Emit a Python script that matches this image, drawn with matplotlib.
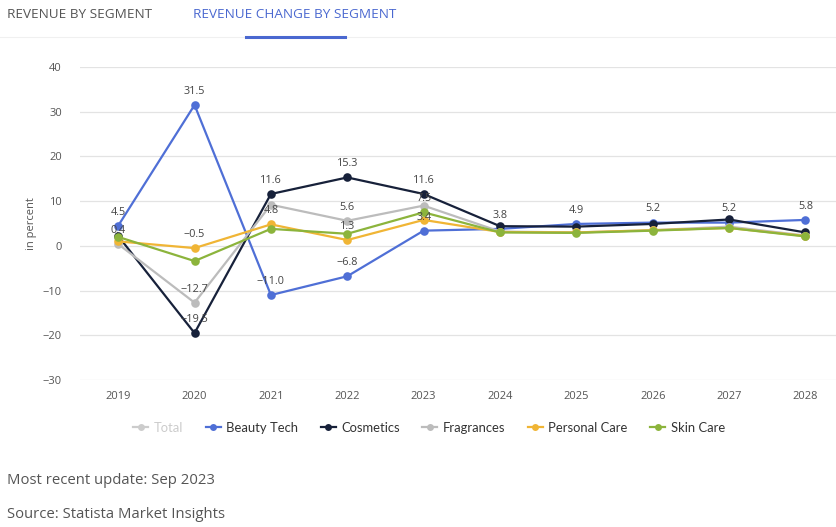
import matplotlib
matplotlib.use("Agg")
import matplotlib.pyplot as plt
from matplotlib.lines import Line2D

years = [2019, 2020, 2021, 2022, 2023, 2024, 2025, 2026, 2027, 2028]
beauty_tech = [4.5, 31.5, -11.0, -6.8, 3.4, 3.8, 4.9, 5.2, 5.2, 5.8]
cosmetics = [2.2, -19.5, 11.6, 15.3, 11.6, 4.4, 4.3, 4.9, 5.9, 3.0]
fragrances = [0.4, -12.7, 9.2, 5.6, 9.0, 3.2, 3.0, 3.5, 4.3, 2.3]
personal_care = [1.0, -0.5, 4.8, 1.3, 5.8, 3.1, 3.0, 3.5, 4.0, 2.2]
skin_care = [2.0, -3.4, 3.8, 2.7, 7.5, 3.0, 2.9, 3.4, 4.0, 2.1]

series = {
    "Beauty Tech": (beauty_tech, "#4f6fd6"),
    "Cosmetics": (cosmetics, "#17213a"),
    "Fragrances": (fragrances, "#bcbcbc"),
    "Personal Care": (personal_care, "#f0b535"),
    "Skin Care": (skin_care, "#8cb43c"),
}

# which points carry a visible data label
labelled = [
    ("Beauty Tech", 2019), ("Fragrances", 2019),
    ("Beauty Tech", 2020), ("Personal Care", 2020), ("Fragrances", 2020), ("Cosmetics", 2020),
    ("Cosmetics", 2021), ("Personal Care", 2021), ("Beauty Tech", 2021),
    ("Cosmetics", 2022), ("Fragrances", 2022), ("Personal Care", 2022), ("Beauty Tech", 2022),
    ("Cosmetics", 2023), ("Skin Care", 2023), ("Beauty Tech", 2023),
    ("Beauty Tech", 2024), ("Beauty Tech", 2025), ("Beauty Tech", 2026),
    ("Beauty Tech", 2027), ("Beauty Tech", 2028),
]

yticks = [-30, -20, -10, 0, 10, 20, 30, 40]

plt.rcParams['font.family'] = ['Open Sans', 'DejaVu Sans']

fig = plt.figure(figsize=(8.36, 5.27), dpi=100)
W, H = 836, 527
ax = fig.add_axes([80 / W, 1 - 380 / H, 756 / W, (380 - 67) / H])

for name, (vals, col) in series.items():
    ax.plot(years, vals, color=col, lw=1.6, marker="o", markersize=6.2,
            markeredgewidth=0, solid_joinstyle="round", zorder=3)

for name, yr in labelled:
    vals = series[name][0]
    v = vals[years.index(yr)]
    txt = f"{v:.1f}".replace("-", "\u2212")
    ax.annotate(txt, (yr, v), xytext=(0, 9.8), textcoords="offset points",
                ha="center", va="center", fontsize=7.8, color="#444444", zorder=5)

ax.set_ylim(-30, 40)
ax.set_xlim(2018.5, 2028.4)
ax.set_yticks(yticks)
ax.set_yticklabels([str(t).replace("-", "\u2212") for t in yticks])
ax.set_xticks(years)
ax.set_xticklabels([str(y) for y in years])
ax.grid(axis="y", color="#e3e3e3", lw=0.9)
ax.set_axisbelow(True)
for s in ax.spines.values():
    s.set_visible(False)
ax.tick_params(length=0, labelsize=8.0, colors="#555555")
ax.tick_params(axis="y", pad=13)
ax.tick_params(axis="x", pad=8)
ax.set_ylabel("in percent", fontsize=8.0, color="#555555", labelpad=4)

# tabs header
fig.text(7 / W, 1 - 14.5 / H, "REVENUE BY SEGMENT", fontsize=9.7, color="#555555",
         va="center", ha="left")
fig.text(193 / W, 1 - 14.5 / H, "REVENUE CHANGE BY SEGMENT", fontsize=9.7, color="#4a68d0",
         va="center", ha="left")
fig.add_artist(Line2D([0, 1], [1 - 36.5 / H] * 2, color="#f0f0f0", lw=0.8))
fig.add_artist(Line2D([246 / W, 345 / W], [1 - 36.5 / H] * 2, color="#4a68d0", lw=2.2))

# legend
handles = [Line2D([], [], color="#cccccc", marker="o", markersize=5, lw=1.6, markeredgewidth=0)]
labels = ["Total"]
for name, (vals, col) in series.items():
    handles.append(Line2D([], [], color=col, marker="o", markersize=5, lw=1.6, markeredgewidth=0))
    labels.append(name)
leg = fig.legend(handles, labels, loc="center", bbox_to_anchor=(429 / W, 1 - 428 / H),
                 ncol=6, frameon=False, handlelength=1.15,
                 handletextpad=0.4, columnspacing=1.75,
                 prop={"family": ["Lato", "DejaVu Sans"], "size": 9.4})
for i, t in enumerate(leg.get_texts()):
    t.set_color("#cccccc" if i == 0 else "#333333")

fig.text(7 / W, 1 - 481 / H, "Most recent update: Sep 2023", fontsize=10.7, color="#555555",
         va="center", ha="left")
fig.text(7 / W, 1 - 515 / H, "Source: Statista Market Insights", fontsize=10.7, color="#555555",
         va="center", ha="left")

fig.savefig("out.png", dpi=100, facecolor="white")
